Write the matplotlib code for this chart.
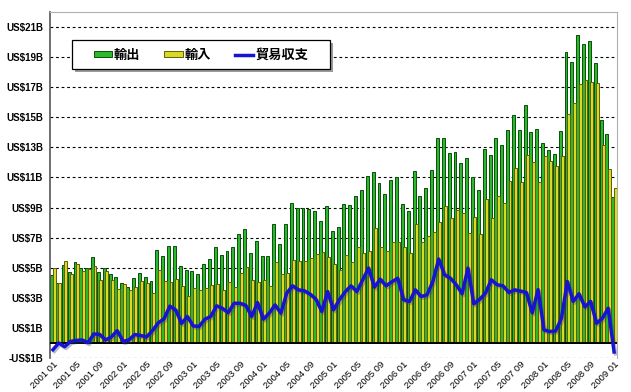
import numpy as np
import matplotlib.pyplot as plt
from matplotlib.patches import Rectangle

# monthly values, US$ billion, 2001-01 .. 2009-01
exports = [4.5, 4.0, 5.2, 4.7, 5.4, 5.0, 4.95, 5.7, 4.75, 5.0, 4.6, 4.4,
           4.0, 3.7, 4.3, 4.64, 4.4, 4.1, 6.2, 5.75, 6.47, 6.47, 5.1, 4.85,
           4.8, 4.6, 5.25, 5.6, 6.38, 5.85, 6.1, 6.38, 7.27, 7.55, 5.95, 6.75,
           5.78, 5.75, 7.93, 6.55, 7.93, 9.3, 8.98, 8.95, 8.9, 8.8, 8.13, 9.13,
           7.45, 7.72, 9.27, 9.2, 9.8, 10.2, 11.07, 11.35, 10.63, 9.93, 10.8, 11.0,
           9.27, 8.76, 11.42, 9.8, 10.3, 11.49, 13.64, 13.64, 12.64, 12.7, 11.93, 12.27,
           11.0, 10.15, 12.9, 12.5, 13.64, 13.13, 14.15, 15.13, 14.18, 15.85, 14.05, 14.24,
           13.27, 12.85, 12.58, 14.08, 19.33, 18.7, 20.5, 19.9, 20.1, 18.6, 14.82, 13.87,
           9.7]
imports = [4.95, 4.0, 5.45, 4.6, 5.23, 4.8, 4.93, 5.1, 4.18, 4.8, 4.2, 3.58,
           3.9, 3.5, 3.74, 4.14, 4.0, 3.3, 4.87, 4.15, 4.02, 4.27, 3.8, 3.09,
           3.67, 3.5, 3.67, 3.84, 3.91, 3.55, 4.08, 3.74, 4.63, 5.05, 4.19, 4.06,
           4.2, 3.77, 5.4, 4.57, 4.62, 5.5, 5.45, 5.48, 5.65, 5.89, 6.04, 5.71,
           5.25, 4.85, 5.87, 5.4, 6.38, 6.0, 6.09, 7.64, 6.39, 6.13, 6.73, 6.7,
           6.4, 6.0, 7.89, 6.71, 7.1, 7.4, 8.06, 9.11, 8.33, 8.83, 8.66, 7.29,
           8.4, 7.25, 9.59, 8.3, 9.77, 9.33, 10.79, 11.6, 10.73, 12.5, 12.05, 10.69,
           12.4, 12.09, 11.78, 12.44, 15.24, 15.94, 17.23, 17.5, 17.34, 17.29, 13.18, 11.56,
           10.3]
balance = [-0.45, 0.0, -0.25, 0.1, 0.17, 0.2, 0.02, 0.6, 0.57, 0.2, 0.4, 0.82,
           0.1, 0.2, 0.56, 0.5, 0.4, 0.8, 1.33, 1.6, 2.45, 2.2, 1.3, 1.76,
           1.13, 1.1, 1.58, 1.76, 2.47, 2.3, 2.02, 2.64, 2.64, 2.5, 1.76, 2.69,
           1.58, 1.98, 2.53, 1.98, 3.31, 3.8, 3.53, 3.47, 3.25, 2.91, 2.09, 3.42,
           2.2, 2.87, 3.4, 3.8, 3.42, 4.2, 4.98, 3.71, 4.24, 3.8, 4.07, 4.3,
           2.87, 2.76, 3.53, 3.09, 3.2, 4.09, 5.58, 4.53, 4.31, 3.87, 3.27, 4.98,
           2.6, 2.9, 3.31, 4.2, 3.87, 3.8, 3.36, 3.53, 3.45, 3.35, 2.0, 3.55,
           0.87, 0.76, 0.8, 1.64, 4.09, 2.76, 3.27, 2.4, 2.76, 1.31, 1.64, 2.31,
           -0.6]
tick_labels = ['2001 01', '2001 05', '2001 09', '2002 01', '2002 05', '2002 09',
               '2003 01', '2003 05', '2003 09', '2004 01', '2004 05', '2004 09',
               '2005 01', '2005 05', '2005 09', '2006 01', '2006 05', '2006 09',
               '2007 01', '2007 05', '2007 09', '2008 01', '2008 05', '2008 09',
               '2009 01']
y_ticks = [-1, 1, 3, 5, 7, 9, 11, 13, 15, 17, 19, 21]
legend_names = ['輸出', '輸入', '貿易収支']

plt.rcParams['font.family'] = ['Liberation Sans', 'Noto Sans CJK JP', 'DejaVu Sans']

x = np.arange(len(exports))
fig = plt.figure(figsize=(6.31, 3.92), dpi=100)
ax = fig.add_axes([50/631, 34/392, 567/631, 346/392])

for y in y_ticks:
    ax.axhline(y, color='black', lw=0.8, ls=(0, (2.5, 2.5)), zorder=0)

# bar shadows
ax.bar(x - 0.1, exports, width=0.5, color='#8a8a8a', alpha=0.6, zorder=1, linewidth=0)
ax.bar(x + 0.32, imports, width=0.5, color='#8a8a8a', alpha=0.6, zorder=1, linewidth=0)

ax.bar(x - 0.22, exports, width=0.5, color='#2cb82c', edgecolor='#0a4f0a',
       linewidth=0.7, zorder=2, label=legend_names[0])
ax.bar(x + 0.2, imports, width=0.5, color='#dada26', edgecolor='#5f5f08',
       linewidth=0.7, zorder=3, label=legend_names[1])

ax.axhline(0, color='black', lw=1.4, zorder=4)

ax.plot(x + 0.25, np.array(balance) - 0.12, color='#3a3a6a', lw=2.5, alpha=0.35, zorder=5)
ax.plot(x, balance, color='#1414d2', lw=2.5, zorder=6, label=legend_names[2])

ax.set_xlim(-0.5, len(exports) - 0.5)
ax.set_ylim(-1, 22)

ax.set_yticks(y_ticks)
ax.set_yticklabels([('-US$%dB' % -v) if v < 0 else ('US$%dB' % v) for v in y_ticks],
                   fontsize=7, fontweight='bold')
ax.set_xticks(x[::4])
ax.set_xticklabels(tick_labels, rotation=45, ha='right', va='top',
                   rotation_mode='anchor', fontsize=6.8)
ax.tick_params(axis='x', length=0, pad=1)
ax.tick_params(axis='y', length=0, pad=5)

ax.spines['left'].set_color('#555555')
ax.spines['left'].set_linewidth(1.2)
ax.spines['top'].set_color('#b0b0b0')
ax.spines['right'].set_color('#b0b0b0')
ax.spines['bottom'].set_visible(False)

# legend box with shadow
bx0, by0, bw, bh = 72/631, 1 - 69/392, 258/631, 29/392
fig.patches.append(Rectangle((bx0 + 3/631, by0 - 3/392), bw, bh, transform=fig.transFigure,
                             facecolor='#9a9a9a', edgecolor='none', zorder=10))
fig.patches.append(Rectangle((bx0, by0), bw, bh, transform=fig.transFigure,
                             facecolor='white', edgecolor='black', lw=0.9, zorder=11))

handles, labels = ax.get_legend_handles_labels()
order = [1, 2, 0]
leg = fig.legend([handles[i] for i in order], [labels[i] for i in order],
                 loc='center', bbox_to_anchor=(bx0 + bw/2, by0 + bh/2),
                 bbox_transform=fig.transFigure, ncol=3, frameon=False,
                 prop={'family': ['Noto Sans CJK JP'], 'weight': 'bold', 'size': 9.5},
                 handlelength=1.4, handleheight=0.3, handletextpad=0.15,
                 columnspacing=1.8, borderpad=0.2)
leg.set_zorder(12)

fig.savefig('out.png', dpi=100)
